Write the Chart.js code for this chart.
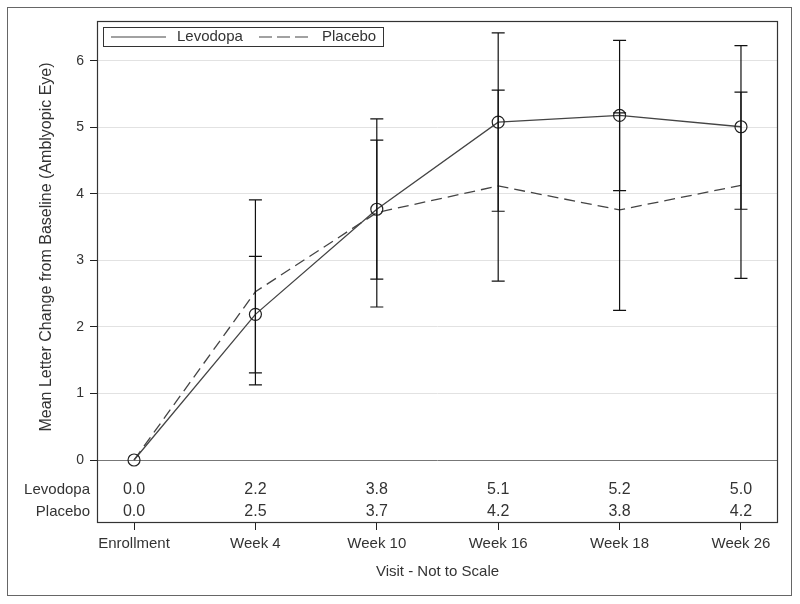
<!DOCTYPE html>
<html>
<head>
<meta charset="utf-8">
<script src="https://cdn.jsdelivr.net/npm/chart.js@4"></script>
<style>
  body { margin: 0; background: #fff; }
  canvas { display: block; }
</style>
</head>
<body>
<canvas id="chart" width="800" height="604"></canvas>
<script>
const visits = ["Enrollment", "Week 4", "Week 10", "Week 16", "Week 18", "Week 26"]
const yTicks = [0, 1, 2, 3, 4, 5, 6]

const levodopaMean = [0, 2.19, 3.77, 5.08, 5.18, 5.01]
const levodopaLower = [0, 1.31, 2.72, 3.74, 4.05, 3.77]
const levodopaUpper = [0, 3.06, 4.81, 6.42, 6.31, 6.23]

const placeboMean = [0, 2.53, 3.72, 4.12, 3.76, 4.13]
const placeboLower = [0, 1.13, 2.30, 2.69, 2.25, 2.73]
const placeboUpper = [0, 3.91, 5.13, 5.56, 5.22, 5.53]

const levodopaTable = ["0.0", "2.2", "3.8", "5.1", "5.2", "5.0"]
const placeboTable = ["0.0", "2.5", "3.7", "4.2", "3.8", "4.2"]

const FONT = "'Liberation Sans', Arial, sans-serif"
Chart.defaults.font.family = FONT

const toPoints = arr => arr.map((y, i) => ({ x: i, y: y }))

const errorBars = [
  { lower: levodopaLower, upper: levodopaUpper },
  { lower: placeboLower, upper: placeboUpper }
]
const tableRows = [
  { label: "Levodopa", values: levodopaTable, y: 490 },
  { label: "Placebo", values: placeboTable, y: 512 }
]

const decorations = {
  id: "decorations",
  beforeDraw(chart) {
    const ctx = chart.ctx
    ctx.save()
    ctx.fillStyle = "#fff"
    ctx.fillRect(0, 0, chart.width, chart.height)
    ctx.restore()
  },
  afterDatasetsDraw(chart) {
    const ctx = chart.ctx
    const xs = chart.scales.x
    const ys = chart.scales.y
    const area = chart.chartArea
    ctx.save()

    // error bars
    ctx.strokeStyle = "#111"
    ctx.lineWidth = 1.2
    errorBars.forEach(eb => {
      eb.lower.forEach((lo, i) => {
        const hi = eb.upper[i]
        if (lo === hi) return
        const x = xs.getPixelForValue(i)
        const y1 = ys.getPixelForValue(lo)
        const y2 = ys.getPixelForValue(hi)
        ctx.beginPath()
        ctx.moveTo(x, y1); ctx.lineTo(x, y2)
        ctx.moveTo(x - 6.5, y1); ctx.lineTo(x + 6.5, y1)
        ctx.moveTo(x - 6.5, y2); ctx.lineTo(x + 6.5, y2)
        ctx.stroke()
      })
    })

    // table of means under the zero line
    ctx.fillStyle = "#333"
    ctx.textBaseline = "middle"
    tableRows.forEach(row => {
      ctx.font = "15px " + FONT
      ctx.textAlign = "right"
      ctx.fillText(row.label, 90, row.y)
      ctx.font = "16px " + FONT
      ctx.textAlign = "center"
      row.values.forEach((v, i) => ctx.fillText(v, xs.getPixelForValue(i), row.y))
    })

    // plot frame
    ctx.strokeStyle = "#333"
    ctx.lineWidth = 1.2
    ctx.strokeRect(area.left + 0.5, area.top + 0.5, area.right - area.left - 1, area.bottom - area.top - 1)

    // outer border
    ctx.strokeStyle = "#666"
    ctx.lineWidth = 1
    ctx.strokeRect(7.5, 7.5, 784, 588)

    // legend
    ctx.strokeStyle = "#333"
    ctx.strokeRect(103.5, 27.5, 280, 19)
    const ds = chart.data.datasets
    const legendItems = [
      { x1: 111, x2: 166, tx: 177 },
      { x1: 259, x2: 308, tx: 322 }
    ]
    ctx.font = "15px " + FONT
    ctx.textAlign = "left"
    ctx.fillStyle = "#333"
    legendItems.forEach((it, i) => {
      ctx.beginPath()
      ctx.setLineDash(ds[i].borderDash ? [13, 5] : [])
      ctx.strokeStyle = ds[i].borderColor
      ctx.lineWidth = 1.2
      ctx.moveTo(it.x1, 37); ctx.lineTo(it.x2, 37)
      ctx.stroke()
      ctx.setLineDash([])
      ctx.fillText(ds[i].label, it.tx, 37)
    })

    // axis titles
    ctx.font = "15px " + FONT
    ctx.textAlign = "center"
    ctx.fillText("Visit - Not to Scale", (area.left + area.right) / 2, 572)
    ctx.font = "16px " + FONT
    ctx.translate(47, 247)
    ctx.rotate(-Math.PI / 2)
    ctx.fillText("Mean Letter Change from Baseline (Amblyopic Eye)", 0, 0)
    ctx.restore()
  }
}

new Chart(document.getElementById("chart"), {
  type: "line",
  data: {
    datasets: [
      {
        label: "Levodopa",
        data: toPoints(levodopaMean),
        borderColor: "#444",
        borderWidth: 1.3,
        pointRadius: 6,
        pointBorderColor: "#222",
        pointBorderWidth: 1.2,
        pointBackgroundColor: "rgba(0,0,0,0)",
        tension: 0
      },
      {
        label: "Placebo",
        data: toPoints(placeboMean),
        borderColor: "#444",
        borderWidth: 1.3,
        borderDash: [11, 6],
        pointRadius: 0,
        tension: 0
      }
    ]
  },
  options: {
    responsive: false,
    animation: false,
    devicePixelRatio: 1,
    layout: { padding: { left: 0, right: 22, top: 21, bottom: 0 } },
    plugins: {
      legend: { display: false },
      tooltip: { enabled: false }
    },
    scales: {
      x: {
        type: "linear",
        min: -0.305,
        max: 5.305,
        afterBuildTicks: axis => { axis.ticks = visits.map((v, i) => ({ value: i })) },
        afterFit: axis => { axis.height = 81 },
        ticks: {
          callback: v => visits[v],
          font: { size: 15 },
          color: "#333",
          padding: 5,
          maxRotation: 0,
          autoSkip: false
        },
        grid: { drawOnChartArea: false, tickLength: 7, tickColor: "#222" },
        border: { display: false }
      },
      y: {
        min: -0.947,
        max: 6.6,
        afterBuildTicks: axis => { axis.ticks = yTicks.map(v => ({ value: v })) },
        afterFit: axis => { axis.width = 97 },
        ticks: {
          font: { size: 14 },
          color: "#333",
          padding: 6
        },
        grid: {
          color: c => (c.tick && c.tick.value === 0 ? "#777" : "#e2e2e2"),
          tickColor: "#222",
          tickLength: 7
        },
        border: { display: false }
      }
    }
  },
  plugins: [decorations]
})
</script>
</body>
</html>
